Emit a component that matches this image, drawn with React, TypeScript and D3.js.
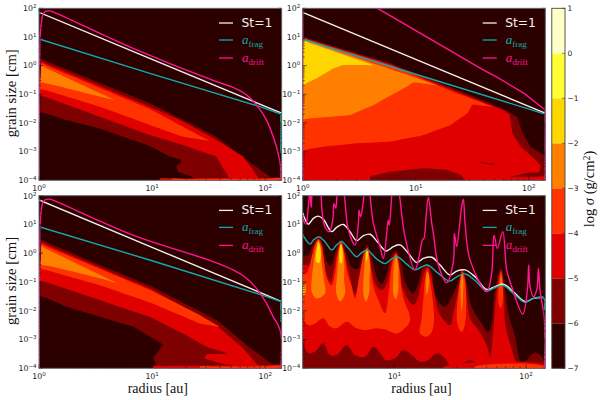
import React from 'react'
import * as d3 from 'd3'

// every pair below is [log10 radius (au), log10 grain size (cm)]
type Pt = [number, number]
type Layer = { level: number; pts: Pt[] }

const levels = [-7, -6, -5, -4, -3, -2, -1, 0, 1]
const levelColors = ['#2d0000', '#7f0000', '#e00000', '#ff3300', '#ff8000', '#ffd700', '#ffff33', '#ffffc8']

// ---- top left
const p1Stokes: Pt[] = [[0, 1.86], [1, 0.22], [2, -1.42], [2.146, -1.66]]
const p1Frag: Pt[] = [[0, 0.93], [0.98, -0.27], [1.953, -1.43], [2.139, -1.69], [2.139, -3.06]]
const p1Drift: Pt[] = [[0, -4], [0.003, -1.2], [0.006, -0.03], [0.012, 1.13], [0.03, 1.71], [0.05, 1.88], [0.094, 1.91], [0.139, 1.85], [0.832, 0.6], [1.569, -0.56], [1.717, -0.76], [1.835, -1.02], [1.923, -1.37], [2.012, -1.9], [2.071, -2.48], [2.115, -3.06], [2.136, -3.52], [2.139, -4]]
const p1Dark: Pt[] = [[0.021, 0.22], [0.979, -1.31], [1.569, -2.48], [1.835, -3.29], [1.982, -3.7], [2.086, -4], [2.15, -4.2], [1.45, -4.2], [1.363, -3.9], [1.23, -3.7], [1.215, -3.52], [1.26, -3.35], [1.245, -3.27], [1.156, -3.17], [0.979, -2.8], [0.537, -2.19], [0.242, -1.9], [0.005, -1.6]]
const p1Red: Pt[] = [[0.021, 0.14], [0.979, -1.43], [1.274, -1.95], [1.569, -2.59], [1.805, -3.17], [1.894, -3.64], [1.953, -4], [1.98, -4.2], [1.72, -4.2], [1.673, -3.85], [1.628, -3.58], [1.569, -3.17], [1.274, -2.77], [0.979, -2.42], [0.537, -1.78], [0.005, -1.02]]
const p1Hot: Pt[] = [[0.021, 0.08], [0.979, -1.51], [1.504, -2.62], [1.274, -2.48], [0.979, -2.07], [0.537, -1.43], [0.005, -0.79]]
const p1Orange: Pt[] = [[0.021, -0.01], [0.67, -1.2], [0.537, -1.08], [0.242, -0.79], [0.015, -0.56]]
const p1StripRed: Pt[] = [[1.068, -3.94], [2.139, -3.92], [2.139, -4.1], [1.068, -4.1]]
const p1StripHot: Pt[] = [[1.171, -3.955], [2.139, -3.94], [2.139, -4.1], [1.171, -4.1]]

// ---- top right
const p2Stokes: Pt[] = [[0, 1.86], [1, 0.22], [2, -1.42], [2.145, -1.66]]
const p2Frag: Pt[] = [[0, 0.92], [1, -0.3], [2.145, -1.69]]
const p2Drift: Pt[] = [[0, -4], [0, 2.4], [0.5, 2.4], [0.663, 2], [1.589, -0.13], [1.722, -0.41], [1.959, -0.97], [2.145, -1.55], [2.145, -4]]
const p2Dark: Pt[] = [[0, 1.01], [0.775, 0.08], [1.367, -0.85], [1.781, -1.52], [1.899, -1.8], [1.944, -2.36], [2.018, -2.83], [2.151, -3.17], [2.151, -4.2], [0, -4.2]]
const p2Red: Pt[] = [[0, 0.98], [0.775, 0.05], [1.367, -0.91], [1.781, -1.57], [1.831, -1.72], [1.855, -2.36], [1.929, -2.83], [2.062, -3.29], [2.107, -3.52], [2.092, -3.7], [1.959, -3.76], [1.84, -3.88], [1.781, -4.2], [0, -4.2]]
const p2Hot: Pt[] = [[0, 0.95], [0.775, 0.01], [1.367, -0.97], [1.678, -1.43], [1.5, -1.37], [1.456, -1.66], [1.308, -2.07], [1.071, -2.42], [0.775, -2.65], [0.479, -2.71], [0.183, -2.83], [0, -2.94]]
const p2Orange: Pt[] = [[0, 0.92], [1.18, -0.67], [0.982, -0.59], [0.893, -0.79], [0.627, -1.37], [0.42, -1.72], [0.183, -1.8], [0, -1.86]]
const p2Gold: Pt[] = [[0, 0.87], [0.621, 0.02], [0.361, 0.02], [0.272, -0.09], [0.124, -0.44], [0, -0.67]]
const p2Patch: Pt[] = [[0.598, -3.87], [0.775, -3.7], [1.071, -3.58], [1.278, -3.64], [1.396, -3.81], [1.456, -4.1], [0.598, -4.1]]
const p2Streak: Pt[] = [[1.574, -3.37], [1.692, -3.43], [1.692, -3.46], [1.574, -3.4]]
const p2StripRed: Pt[] = [[1.781, -3.88], [2.145, -3.88], [2.145, -4.1], [1.781, -4.1]]

// ---- bottom left
const p3Stokes: Pt[] = [[0, 1.85], [1, 0.205], [2, -1.44], [2.146, -1.68]]
const p3Frag: Pt[] = [[0, 0.92], [1, -0.26], [2, -1.49], [2.139, -1.68], [2.139, -2.38]]
const p3Drift: Pt[] = [[0, -4], [0.003, -1.28], [0.006, -0.12], [0.012, 1.15], [0.03, 1.73], [0.05, 1.85], [0.094, 1.88], [0.139, 1.82], [0.832, 0.63], [1.54, -0.29], [1.717, -0.58], [1.835, -0.87], [1.923, -1.22], [2.012, -1.74], [2.071, -2.21], [2.115, -2.5], [2.139, -2.79], [2.139, -4]]
const p3Dark: Pt[] = [[0.021, 0.46], [0.537, -0.41], [1, -1.16], [1.569, -2.32], [1.835, -3.19], [2.012, -3.71], [2.115, -4], [2.19, -4.2], [1.2, -4.2], [1.127, -4.06], [1.038, -3.89], [1.009, -3.65], [1.097, -3.19], [1.009, -2.96], [0.832, -2.55], [0.537, -2.21], [0.242, -1.86], [0.005, -1.45]]
const p3Red: Pt[] = [[0.021, 0.37], [1, -1.26], [1.569, -2.5], [1.805, -3.31], [1.923, -3.83], [1.982, -4], [2.02, -4.2], [1.75, -4.2], [1.717, -3.91], [1.614, -3.83], [1.466, -3.65], [1.481, -3.52], [1.673, -3.48], [1.481, -3.25], [1.274, -2.79], [0.979, -2.21], [0.537, -1.63], [0.005, -0.93]]
const p3Hot: Pt[] = [[0.021, 0.31], [1, -1.31], [1.422, -2.15], [1.593, -2.55], [1.422, -2.44], [1, -1.74], [0.537, -1.11], [0.015, -0.53]]
const p3Orange: Pt[] = [[0.021, 0.23], [0.678, -1.02], [0.537, -0.87], [0.242, -0.58], [0.015, -0.38]]
const p3StripRed: Pt[] = [[1.009, -3.92], [2.139, -3.89], [2.139, -4.1], [1.009, -4.1]]
const p3StripHot: Pt[] = [[1.422, -3.94], [2.139, -3.93], [2.139, -4.1], [1.422, -4.1]]

// ---- bottom right, planet gaps
const p4Stokes: Pt[] = [[0.304, 1.41], [0.322, 1.18], [0.347, 1.01], [0.385, 1.21], [0.423, 1.29], [0.461, 1.18], [0.524, 0.75], [0.562, 0.9], [0.613, 1], [0.663, 0.75], [0.714, 0.44], [0.765, 0.61], [0.815, 0.66], [0.871, 0.4], [0.937, 0.08], [0.992, 0.23], [1.043, 0.29], [1.106, 0], [1.17, -0.32], [1.22, -0.18], [1.284, -0.14], [1.347, -0.41], [1.423, -0.76], [1.473, -0.62], [1.537, -0.58], [1.613, -0.82], [1.701, -1.26], [1.765, -1.16], [1.828, -1.08], [1.904, -1.34], [1.992, -1.68], [2.056, -1.57], [2.132, -1.53]]
const p4Frag: Pt[] = [[0.304, 0.66], [0.329, 0.46], [0.359, 0.32], [0.39, 0.48], [0.43, 0.57], [0.473, 0.4], [0.524, 0.11], [0.562, 0.29], [0.6, 0.4], [0.651, 0.17], [0.714, -0.12], [0.752, 0.02], [0.795, 0.11], [0.861, -0.18], [0.929, -0.36], [0.98, -0.2], [1.023, -0.12], [1.094, -0.38], [1.157, -0.58], [1.208, -0.47], [1.251, -0.41], [1.334, -0.7], [1.418, -0.97], [1.473, -0.82], [1.537, -0.72], [1.613, -0.95], [1.701, -1.31], [1.765, -1.19], [1.828, -1.12], [1.904, -1.4], [1.992, -1.71], [2.056, -1.57], [2.106, -1.53], [2.136, -1.57], [2.139, -1.97]]
const p4Drift: Pt[] = [[0.304, 1.21], [0.329, 1], [0.342, 1.39], [0.354, 2], [0.36, 2.3], [0.368, 1.6], [0.385, 2.2], [0.43, 2.3], [0.445, 1.9], [0.45, 1.5], [0.473, 0.92], [0.506, 0.75], [0.532, 1.15], [0.542, 1.73], [0.555, 1.56], [0.565, 2], [0.575, 2.3], [0.605, 2.3], [0.62, 2], [0.651, 0.81], [0.701, 0.29], [0.727, 1.04], [0.732, 1.5], [0.744, 1.27], [0.77, 2], [0.78, 2.3], [0.805, 2.3], [0.815, 2], [0.841, 1.04], [0.891, 0.23], [0.916, -0.18], [0.942, 0.69], [0.954, 1.15], [0.962, 0.98], [0.98, 2], [0.99, 2.4], [1.03, 2.4], [1.04, 2], [1.081, 0.57], [1.157, -0.58], [1.19, -0.06], [1.213, 0.46], [1.225, 0.52], [1.241, 1.27], [1.258, 1.94], [1.284, 1.04], [1.296, 0.69], [1.334, -0.41], [1.397, -1.02], [1.448, -0.29], [1.456, 0.69], [1.473, 0.23], [1.511, 1.62], [1.524, 1.88], [1.537, 1.04], [1.575, -0.24], [1.701, -1.34], [1.739, -0.7], [1.757, 0.63], [1.782, 0.17], [1.823, 0.75], [1.853, -0.58], [1.891, -1.16], [1.975, -2.11], [2.01, -1.28], [2.02, -0.41], [2.03, -1.16], [2.056, -1.51], [2.081, -1.28], [2.094, -0.53], [2.106, -1.28], [2.139, -2.32], [2.139, -4]]
const p4Dark: Pt[] = [[0.304, -0.12], [0.347, -0.06], [0.38, 0.29], [0.423, 0.6], [0.461, 0.23], [0.486, -0.29], [0.516, -0.45], [0.549, 0], [0.595, 0.49], [0.638, 0], [0.676, -0.49], [0.727, -0.53], [0.759, 0], [0.795, 0.29], [0.835, -0.29], [0.871, -0.87], [0.904, -1.07], [0.942, -0.7], [0.975, -0.12], [1.013, 0.08], [1.051, -0.35], [1.081, -0.99], [1.144, -1.4], [1.182, -1.05], [1.215, -0.53], [1.251, -0.41], [1.284, -0.7], [1.296, -1.28], [1.334, -1.68], [1.385, -1.86], [1.448, -1.4], [1.486, -0.99], [1.516, -0.53], [1.549, -1.05], [1.587, -1.86], [1.663, -2.44], [1.714, -2.73], [1.739, -2.44], [1.765, -1.28], [1.81, -0.53], [1.841, -1.28], [1.866, -2.09], [1.916, -2.9], [1.967, -3.83], [2.01, -3.69], [2.068, -3.45], [2.119, -3.6], [2.139, -3.83], [2.15, -4.2], [0.3, -4.2]]
const p4Red: Pt[] = [[0.304, -0.41], [0.359, -0.44], [0.39, 0], [0.423, 0.48], [0.456, 0], [0.481, -0.64], [0.516, -0.99], [0.549, -0.35], [0.595, 0.4], [0.633, -0.24], [0.663, -0.82], [0.701, -1.45], [0.744, -0.58], [0.795, 0.2], [0.828, -0.58], [0.861, -1.11], [0.904, -1.28], [0.942, -1.05], [0.98, -0.29], [1.013, 0.02], [1.043, -0.58], [1.068, -1.28], [1.144, -1.8], [1.182, -1.51], [1.208, -0.93], [1.251, -0.49], [1.284, -0.87], [1.309, -1.51], [1.334, -2.03], [1.423, -2.5], [1.448, -2.09], [1.486, -1.28], [1.516, -0.58], [1.537, -0.93], [1.575, -2.26], [1.638, -2.67], [1.701, -3.19], [1.727, -3.6], [1.752, -2.67], [1.772, -1.51], [1.81, -0.58], [1.833, -1.51], [1.841, -2.44], [1.878, -3.13], [1.929, -3.83], [1.954, -3.94], [1.676, -3.94], [1.625, -3.83], [1.575, -3.71], [1.499, -3.89], [1.423, -3.89], [1.385, -3.65], [1.322, -3.48], [1.258, -3.71], [1.195, -3.77], [1.132, -3.54], [1.068, -3.36], [1.005, -3.65], [0.929, -3.71], [0.904, -3.54], [0.841, -3.25], [0.777, -3.6], [0.701, -3.54], [0.638, -3.19], [0.562, -3.54], [0.511, -3.54], [0.461, -3.13], [0.397, -3.42], [0.347, -3.48], [0.304, -3.02]]
const p4Hot: Pt[] = [[0.304, -0.76], [0.334, -0.7], [0.372, -0.12], [0.397, 0.29], [0.423, 0.49], [0.448, 0.29], [0.466, -0.29], [0.491, -0.93], [0.524, -1.11], [0.549, -0.7], [0.57, 0], [0.595, 0.37], [0.62, 0], [0.643, -0.7], [0.676, -1.16], [0.701, -1.57], [0.734, -0.82], [0.77, 0], [0.795, 0.18], [0.815, -0.29], [0.841, -1.16], [0.878, -1.63], [0.929, -2.09], [0.959, -1.28], [0.987, -0.29], [1.013, -0.03], [1.038, -0.53], [1.056, -1.28], [1.081, -1.74], [1.114, -2.11], [1.114, -2.41], [1.018, -2.79], [0.942, -2.67], [0.866, -2.61], [0.79, -2.67], [0.714, -2.61], [0.638, -2.38], [0.562, -2.61], [0.511, -2.55], [0.461, -2.26], [0.397, -2.44], [0.347, -2.5], [0.304, -2.21]]
const p4HotGap5: Pt[] = [[1.251, -0.56], [1.233, -0.93], [1.22, -1.63], [1.208, -2.26], [1.195, -2.79], [1.246, -2.9], [1.284, -2.73], [1.301, -2.32], [1.291, -1.63], [1.271, -0.93]]
const p4HotGap6: Pt[] = [[1.516, -0.64], [1.499, -0.93], [1.478, -2.44], [1.511, -2.73], [1.537, -2.44], [1.537, -0.93]]
const p4HotGap7: Pt[] = [[1.81, -0.64], [1.797, -0.93], [1.792, -1.74], [1.807, -1.92], [1.82, -1.74], [1.823, -0.93]]
const p4Orange1: Pt[] = [[0.423, 0.44], [0.405, 0.17], [0.385, -0.41], [0.372, -0.93], [0.372, -1.34], [0.41, -1.57], [0.473, -1.4], [0.466, -0.93], [0.448, -0.29], [0.441, 0.17]]
const p4Orange2: Pt[] = [[0.595, 0.34], [0.58, 0], [0.57, -0.47], [0.562, -0.93], [0.557, -1.34], [0.587, -1.68], [0.625, -1.4], [0.618, -0.93], [0.62, -0.47], [0.613, 0]]
const p4Orange3: Pt[] = [[0.795, 0.16], [0.777, -0.18], [0.77, -0.58], [0.765, -0.93], [0.765, -1.4], [0.785, -1.68], [0.81, -1.34], [0.81, -0.93], [0.815, -0.58], [0.81, -0.18]]
const p4Orange4: Pt[] = [[1.013, -0.06], [0.997, -0.41], [0.992, -0.93], [0.992, -1.4], [1.01, -1.6], [1.03, -1.28], [1.03, -0.93], [1.03, -0.41]]
const p4Orange5: Pt[] = [[1.251, -0.64], [1.238, -0.93], [1.246, -1.45], [1.266, -0.93]]
const p4Orange6: Pt[] = [[1.516, -0.7], [1.504, -0.93], [1.511, -2.03], [1.524, -0.93]]
const p4Orange7: Pt[] = [[1.81, -0.76], [1.807, -1.16], [1.815, -1.16]]
const p4OrangeEdge: Pt[] = [[0.304, -1.05], [0.324, -1.08], [0.329, -1.28], [0.319, -1.45], [0.304, -1.45]]
const p4Gold1: Pt[] = [[0.423, 0.4], [0.41, 0.11], [0.405, -0.29], [0.43, -0.33], [0.441, 0.11]]
const p4Gold2: Pt[] = [[0.595, 0.32], [0.582, 0.05], [0.59, -0.35], [0.6, -0.35], [0.608, 0.05]]
const p4Gold3: Pt[] = [[0.795, 0.11], [0.782, -0.06], [0.79, -0.29], [0.8, -0.06]]
const p4GoldEdge: Pt[] = [[0.304, -1.16], [0.314, -1.16], [0.314, -1.4], [0.304, -1.4]]
const p4StripRed: Pt[] = [[1.372, -3.96], [2.139, -3.89], [2.139, -4.1], [1.372, -4.1]]
const p4StripHot: Pt[] = [[1.6, -3.97], [2.139, -3.94], [2.139, -4.1], [1.6, -4.1]]

const panels = [
  {
    id: 'p1', xMin: 1, xRange: [39, 281.7], yRange: [180.3, 8.3], stokes: p1Stokes, frag: p1Frag, drift: p1Drift, xLabel: false, yLabel: true, wavy: false,
    layers: [
      { level: -6, pts: p1Dark }, { level: -5, pts: p1Red }, { level: -4, pts: p1Hot }, { level: -3, pts: p1Orange },
      { level: -5, pts: p1StripRed }, { level: -4, pts: p1StripHot },
    ] as Layer[],
  },
  {
    id: 'p2', xMin: 1, xRange: [302.7, 545.3], yRange: [180.3, 8.3], stokes: p2Stokes, frag: p2Frag, drift: p2Drift, xLabel: false, yLabel: false, wavy: false,
    layers: [
      { level: -6, pts: p2Dark }, { level: -5, pts: p2Red }, { level: -4, pts: p2Hot }, { level: -3, pts: p2Orange }, { level: -2, pts: p2Gold },
      { level: -6, pts: p2Patch }, { level: -6, pts: p2Streak }, { level: -5, pts: p2StripRed },
    ] as Layer[],
  },
  {
    id: 'p3', xMin: 1, xRange: [39, 281.7], yRange: [368.3, 195.7], stokes: p3Stokes, frag: p3Frag, drift: p3Drift, xLabel: true, yLabel: true, wavy: false,
    layers: [
      { level: -6, pts: p3Dark }, { level: -5, pts: p3Red }, { level: -4, pts: p3Hot }, { level: -3, pts: p3Orange },
      { level: -5, pts: p3StripRed }, { level: -4, pts: p3StripHot },
    ] as Layer[],
  },
  {
    id: 'p4', xMin: 2.014, xRange: [302.7, 545.3], yRange: [368.3, 195.7], stokes: p4Stokes, frag: p4Frag, drift: p4Drift, xLabel: true, yLabel: false, wavy: true,
    layers: [
      { level: -6, pts: p4Dark }, { level: -5, pts: p4Red }, { level: -4, pts: p4Hot },
      { level: -4, pts: p4HotGap5 }, { level: -4, pts: p4HotGap6 }, { level: -4, pts: p4HotGap7 },
      { level: -3, pts: p4Orange1 }, { level: -3, pts: p4Orange2 }, { level: -3, pts: p4Orange3 }, { level: -3, pts: p4Orange4 },
      { level: -3, pts: p4Orange5 }, { level: -3, pts: p4Orange6 }, { level: -3, pts: p4Orange7 }, { level: -3, pts: p4OrangeEdge },
      { level: -2, pts: p4Gold1 }, { level: -2, pts: p4Gold2 }, { level: -2, pts: p4Gold3 }, { level: -2, pts: p4GoldEdge },
      { level: -5, pts: p4StripRed }, { level: -4, pts: p4StripHot },
    ] as Layer[],
  },
]

const WHITE = '#f4f0ec'
const TEAL = '#12a9ab'
const PINK = '#ff1493'
const SERIF = '"Liberation Serif", serif'
const SANS = '"DejaVu Sans", sans-serif'

// long straight edges get extra nodes so the smoothing only rounds the corners
function subdivide(pts: Pt[], step = 0.12): Pt[] {
  const out: Pt[] = []
  pts.forEach((a, i) => {
    const b = pts[(i + 1) % pts.length]
    const n = Math.max(1, Math.ceil(Math.hypot(b[0] - a[0], b[1] - a[1]) / step))
    for (let k = 0; k < n; k++) out.push([a[0] + ((b[0] - a[0]) * k) / n, a[1] + ((b[1] - a[1]) * k) / n])
  })
  return out
}

function Decade({ x, y, exp, anchor }: { x: number; y: number; exp: number; anchor: string }) {
  return (
    <text x={x} y={y} textAnchor={anchor} fontFamily={SANS} fontSize={7.8} fill="#222">
      10<tspan dy={-3} fontSize={5.5}>{String(exp).replace('-', '\u2212')}</tspan>
    </text>
  )
}

function Panel({ p }: { p: (typeof panels)[number] }) {
  const x = d3.scaleLog().domain([p.xMin, 140]).range(p.xRange)
  const y = d3.scaleLog().domain([1e-4, 1e2]).range(p.yRange)
  const px = (d: Pt) => x(10 ** d[0])
  const py = (d: Pt) => y(10 ** d[1])

  const shape = d3.line<Pt>().x(px).y(py).curve(d3.curveCatmullRomClosed.alpha(0.5))
  const curve = d3.line<Pt>().x(px).y(py).curve(d3.curveCatmullRom.alpha(0.5))
  const straight = d3.line<Pt>().x(px).y(py)

  const [x0, x1] = p.xRange
  const [y0, y1] = p.yRange
  const isMajor = (t: number) => Math.abs(Math.log10(t) - Math.round(Math.log10(t))) < 1e-6
  const xTicks = x.ticks()
  const yTicks = y.ticks()
  const legendX = x0 + 180
  const legendY = y1 + 14.7

  return (
    <g>
      <clipPath id={p.id}>
        <rect x={x0} y={y1} width={x1 - x0} height={y0 - y1} />
      </clipPath>
      <rect x={x0} y={y1} width={x1 - x0} height={y0 - y1} fill={levelColors[0]} />
      <g clipPath={`url(#${p.id})`}>
        {p.layers.map((l, i) => (
          <path key={i} d={shape(p.wavy ? l.pts : subdivide(l.pts)) as string} fill={levelColors[levels.indexOf(l.level)]} />
        ))}
        <path d={(p.wavy ? curve(p.stokes) : straight(p.stokes)) as string} fill="none" stroke={WHITE} strokeWidth={1.4} />
        <path d={(p.wavy ? curve(p.frag) : straight(p.frag)) as string} fill="none" stroke={TEAL} strokeWidth={1.4} />
        <path d={(p.id === 'p2' ? straight(p.drift) : curve(p.drift)) as string} fill="none" stroke={PINK} strokeWidth={1.4} />
      </g>

      {xTicks.map(t => (
        <g key={t} stroke="#111" strokeWidth={0.6}>
          <line x1={x(t)} x2={x(t)} y1={y0} y2={y0 - (isMajor(t) ? 4 : 2)} />
          <line x1={x(t)} x2={x(t)} y1={y1} y2={y1 + (isMajor(t) ? 4 : 2)} />
        </g>
      ))}
      {yTicks.map(t => (
        <g key={t} stroke="#111" strokeWidth={0.6}>
          <line x1={x0} x2={x0 + (isMajor(t) ? 4 : 2)} y1={y(t)} y2={y(t)} />
          <line x1={x1} x2={x1 - (isMajor(t) ? 4 : 2)} y1={y(t)} y2={y(t)} />
        </g>
      ))}
      <rect x={x0} y={y1} width={x1 - x0} height={y0 - y1} fill="none" stroke="#666" strokeWidth={0.9} />

      {xTicks.filter(isMajor).map(t => (
        <Decade key={t} x={x(t)} y={y0 + 10.6} exp={Math.round(Math.log10(t))} anchor="middle" />
      ))}
      {yTicks.filter(isMajor).map(t => (
        <Decade key={t} x={x0 - 2.5} y={y(t) + 2.8} exp={Math.round(Math.log10(t))} anchor="end" />
      ))}

      <line x1={legendX} x2={legendX + 14} y1={legendY} y2={legendY} stroke={WHITE} strokeWidth={1.3} />
      <text x={legendX + 22.5} y={legendY + 4} fontFamily={SANS} fontSize={12.3} fill={WHITE}>St=1</text>
      <line x1={legendX} x2={legendX + 14} y1={legendY + 17} y2={legendY + 17} stroke={TEAL} strokeWidth={1.3} />
      <text x={legendX + 23} y={legendY + 21} fontFamily={SERIF} fontSize={13} fill={TEAL}>
        <tspan fontStyle="italic">a</tspan><tspan dy={2.5} fontSize={9}>frag</tspan>
      </text>
      <line x1={legendX} x2={legendX + 14} y1={legendY + 35} y2={legendY + 35} stroke={PINK} strokeWidth={1.3} />
      <text x={legendX + 23} y={legendY + 39} fontFamily={SERIF} fontSize={13} fill={PINK}>
        <tspan fontStyle="italic">a</tspan><tspan dy={2.5} fontSize={9}>drift</tspan>
      </text>

      {p.yLabel && (
        <text transform={`translate(16,${(y0 + y1) / 2 - 1}) rotate(-90)`} textAnchor="middle" fontFamily={SERIF} fontSize={14.7} fill="#111">
          grain size [cm]
        </text>
      )}
      {p.xLabel && (
        <text x={(x0 + x1) / 2 - 2.5} y={393} textAnchor="middle" fontFamily={SERIF} fontSize={14} fill="#111">
          radius [au]
        </text>
      )}
    </g>
  )
}

function Colorbar() {
  const left = 551.8
  const right = 565
  const c = d3.scaleLinear().domain([-7, 1]).range([368.3, 8.3])
  return (
    <g>
      {levelColors.map((col, i) => (
        <rect key={col} x={left} y={c(levels[i + 1])} width={right - left} height={c(levels[i]) - c(levels[i + 1])} fill={col} />
      ))}
      <rect x={left} y={c(1)} width={right - left} height={c(-7) - c(1)} fill="none" stroke="#444" strokeWidth={0.9} />
      {levels.map(l => (
        <g key={l}>
          <line x1={right - 3} x2={right} y1={c(l)} y2={c(l)} stroke="#333" strokeWidth={0.6} />
          <text x={567.5} y={c(l) + 2.8} fontFamily={SANS} fontSize={7.5} fill="#222">
            {String(l).replace('-', '\u2212')}
          </text>
        </g>
      ))}
      <text transform="translate(594,189) rotate(-90)" textAnchor="middle" fontFamily={SERIF} fontSize={14.5} fill="#111">
        log <tspan fontStyle="italic">σ</tspan> (g/cm<tspan dy={-4.5} fontSize={10}>2</tspan><tspan dy={4.5}>)</tspan>
      </text>
    </g>
  )
}

export default function App() {
  return (
    <svg width={601} height={400} style={{ position: 'absolute', left: 0, top: 0, background: '#fff' }}>
      {panels.map(p => <Panel key={p.id} p={p} />)}
      <Colorbar />
    </svg>
  )
}
